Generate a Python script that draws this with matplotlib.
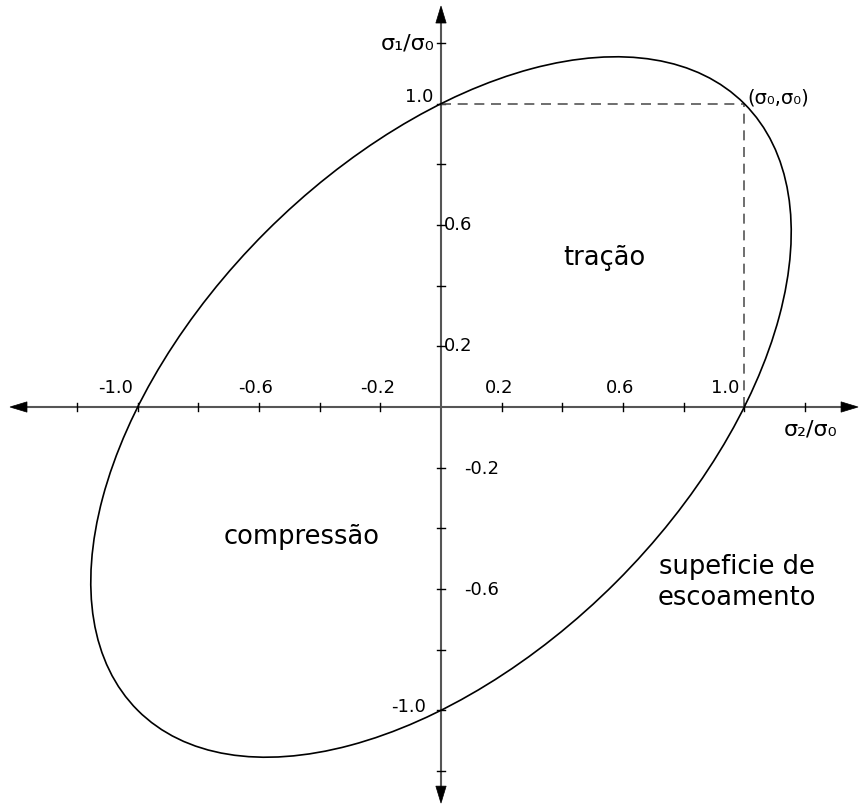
import matplotlib.pyplot as plt
import numpy as np
from matplotlib.patches import Ellipse, Polygon

# Critério de von Mises no plano das tensões principais (normalizado por sigma0)
sigma0 = 1.0
semiMajor = np.sqrt(2.0) * sigma0        # ao longo de sigma1 = sigma2
semiMinor = np.sqrt(2.0 / 3.0) * sigma0  # ao longo de sigma1 = -sigma2
angleDeg = 45.0

tickPos = [-1.2, -1.0, -0.8, -0.6, -0.4, -0.2, 0.2, 0.4, 0.6, 0.8, 1.0, 1.2]
xLabels = [-1.0, -0.6, -0.2, 0.2, 0.6, 1.0]
yLabelsRight = [0.6, 0.2, -0.2, -0.6]
yLabelsLeft = [1.0, -1.0]

scale = 303.3  # px por unidade
W, H = 860, 807
x0, y0 = 441, 407

fig = plt.figure(figsize=(W / 100, H / 100), dpi=100)
ax = fig.add_axes([0, 0, 1, 1])
ax.set_xlim(-x0 / scale, (W - x0) / scale)
ax.set_ylim(-(H - y0) / scale, y0 / scale)
ax.set_aspect('equal')
ax.axis('off')

axisColor = '#555555'
right, left, top, bottom = 1.375, -1.421, 1.322, -1.306
headLen, headHalf = 0.056, 0.017

# eixos com setas
ax.plot([left + 0.01, right - 0.01], [0, 0], color=axisColor, lw=1.5, zorder=2)
ax.plot([0, 0], [bottom + 0.01, top - 0.01], color=axisColor, lw=1.5, zorder=2)
heads = [
    [(right, 0), (right - headLen, headHalf), (right - headLen, -headHalf)],
    [(left, 0), (left + headLen, headHalf), (left + headLen, -headHalf)],
    [(0, top), (headHalf, top - headLen), (-headHalf, top - headLen)],
    [(0, bottom), (headHalf, bottom + headLen), (-headHalf, bottom + headLen)],
]
for h in heads:
    ax.add_patch(Polygon(h, closed=True, facecolor='black', edgecolor='black', lw=0.5, zorder=3))

# marcas dos eixos
t = 0.013
for v in tickPos:
    ax.plot([v, v], [-t, t], color='black', lw=1.0, zorder=3)
    ax.plot([-t, t], [v, v], color='black', lw=1.0, zorder=3)

tickFont = 13
for v in xLabels:
    if abs(v) == 1.0:
        ax.text(v - 0.015, 0.033, f'{v:.1f}', ha='right', va='bottom', fontsize=tickFont)
    else:
        ax.text(v - 0.01, 0.033, f'{v:.1f}', ha='center', va='bottom', fontsize=tickFont)
for v in yLabelsRight:
    dx = 0.008 if v > 0 else 0.075
    ax.text(dx, v - 0.005 if v < 0 else v, f'{v:.1f}', ha='left', va='center', fontsize=tickFont)
ax.text(-0.025, 1.0 + 0.023, '1.0', ha='right', va='center', fontsize=tickFont)
ax.text(-0.05, -1.0 + 0.01, '-1.0', ha='right', va='center', fontsize=tickFont)

# superfície de escoamento
ax.add_patch(Ellipse((0, 0), 2 * semiMajor, 2 * semiMinor, angle=angleDeg,
                     fill=False, edgecolor='black', lw=1.2, zorder=4))

# ponto (sigma0, sigma0)
ax.plot([0, sigma0], [sigma0, sigma0], color='#555555', lw=1.2, ls=(0, (6, 4)), zorder=3)
ax.plot([sigma0, sigma0], [0, sigma0], color='#555555', lw=1.2, ls=(0, (6, 4)), zorder=3)
ax.text(sigma0 + 0.01, sigma0 + 0.02, '(σ₀,σ₀)', ha='left', va='center', fontsize=14)

ax.text(-0.02, 1.2, 'σ₁/σ₀', ha='right', va='center', fontsize=16)
ax.text(1.13, -0.04, 'σ₂/σ₀', ha='left', va='top', fontsize=16)

ax.text(0.54, 0.49, 'tração', ha='center', va='center', fontsize=18.5)
ax.text(-0.46, -0.43, 'compressão', ha='center', va='center', fontsize=18.5)
ax.text(0.976, -0.58, 'supeficie de\nescoamento', ha='center', va='center',
        fontsize=18.5, linespacing=1.25)

fig.savefig('out.png', dpi=100, facecolor='white')
